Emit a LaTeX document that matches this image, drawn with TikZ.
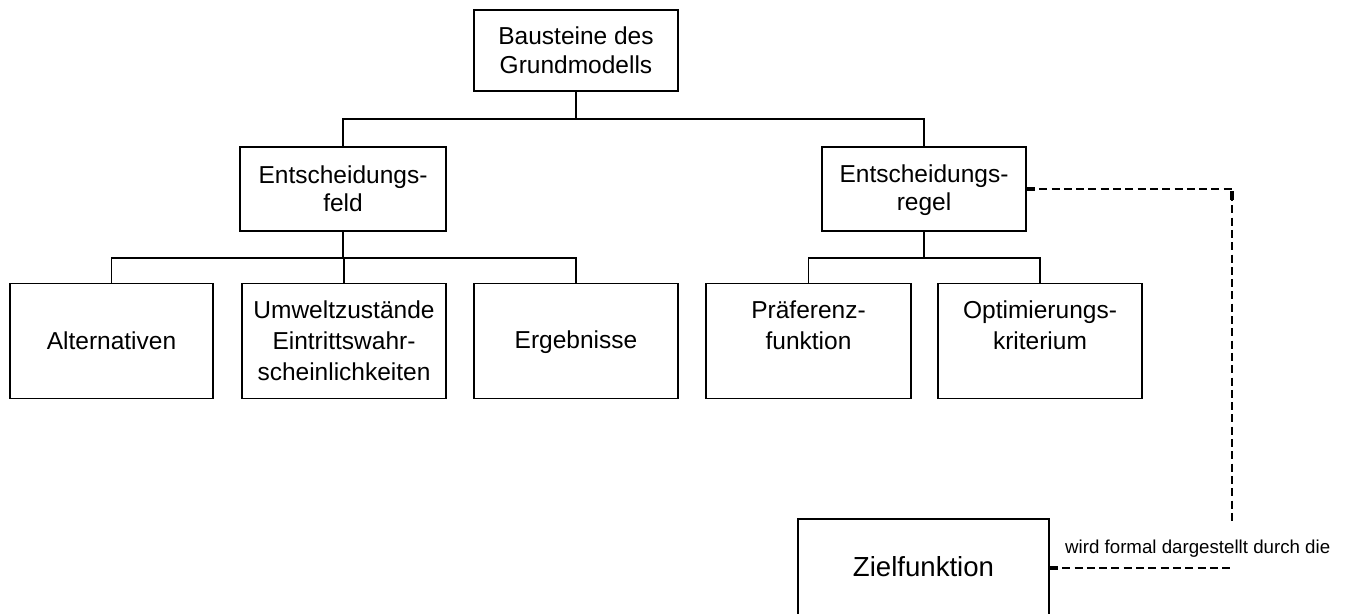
\documentclass[tikz,border=0pt]{standalone}
\usepackage{fontspec}
\setmainfont{Liberation Sans}
\newcommand\lstrut{\rule[-3pt]{0pt}{23pt}}
\begin{document}
\begin{tikzpicture}[x=1pt,y=-1pt,
  box/.style={draw,line width=1.8pt,rectangle,inner sep=0pt,align=center,
    font=\fontsize{24.5}{28.5}\selectfont},
  lowbox/.style={box,font=\fontsize{24.5}{31}\selectfont},
  tree/.style={line width=1.8pt},
  dashlink/.style={line width=1.8pt,dash pattern=on 8pt off 4.3pt},
  capmark/.style={line width=4pt}]
\useasboundingbox (0,0) rectangle (1346,613);
\clip (0,0) rectangle (1346,613);
% nodes
\node[box,minimum width=204,minimum height=81] (b0) at (576,50.5) {\lstrut Bausteine des\\Grundmodells\lstrut};
\node[box,minimum width=206,minimum height=84] (feld) at (343,189) {\lstrut Entscheidungs-\\feld\lstrut};
\node[box,minimum width=204,minimum height=84] (regel) at (924,189) {\lstrut Entscheidungs-\\regel\lstrut};
\node[lowbox,minimum width=203,minimum height=115] (alt) at (111.5,341) {\lstrut Alternativen};
\node[lowbox,minimum width=204,minimum height=115] (umw) at (344,341) {\lstrut Umweltzustände\\Eintrittswahr-\\scheinlichkeiten\lstrut};
\node[lowbox,minimum width=204,minimum height=115] (erg) at (576,341) {\lstrut Ergebnisse};
\node[lowbox,minimum width=205,minimum height=115] (praef) at (808.5,341) {\lstrut Präferenz-\\funktion\\\lstrut};
\node[lowbox,minimum width=204,minimum height=115] (opt) at (1040,341) {\lstrut Optimierungs-\\kriterium\\\lstrut};
\node[box,minimum width=251,minimum height=98,font=\fontsize{27.6}{32}\selectfont] (ziel) at (923.5,568) {\lstrut Zielfunktion};
\node[anchor=base west,inner sep=0pt,font=\fontsize{18.7}{22}\selectfont] (lbl) at (1065,553) {wird formal dargestellt durch die};
% tree connectors
\draw[tree] (b0.south) -- +(0,27) -| (feld.north);
\draw[tree] (b0.south) -- +(0,27) -| (regel.north);
\draw[tree] (feld.south) -- +(0,26) -| (alt.north);
\draw[tree] (feld.south) -- +(0,26) -| (umw.north);
\draw[tree] (feld.south) -- +(0,26) -| (erg.north);
\draw[tree] (regel.south) -- +(0,26) -| (praef.north);
\draw[tree] (regel.south) -- +(0,26) -| (opt.north);
% dashed connectors
\coordinate (corner) at (1232,189);
\coordinate (dend) at (1232,525);
\coordinate (lowend) at (1232,568);
\draw[dashlink] (regel.east) -- (corner) -- (dend);
\draw[dashlink] (ziel.east) -- (lowend);
\draw[capmark] (regel.east) -- +(8,0);
\draw[capmark] (ziel.east) -- +(8,0);
\draw[capmark] ([yshift=-2]corner) -- +(0,9);
\end{tikzpicture}
\end{document}
